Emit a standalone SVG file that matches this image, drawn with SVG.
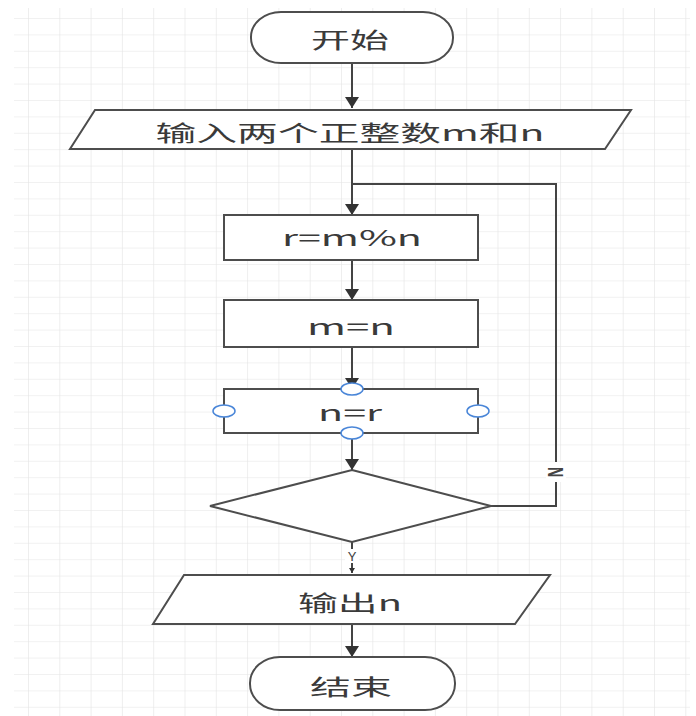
<svg xmlns="http://www.w3.org/2000/svg" width="696" height="716" viewBox="0 0 696 716">
<defs>
<pattern id="grid" x="28" y="18" width="31.3" height="16.4" patternUnits="userSpaceOnUse">
<path d="M0,0 V16.4 M0,0 H31.3" fill="none" stroke="#e4e4e4" stroke-width="1.2"/>
</pattern>
<marker id="arr" viewBox="0 0 11 14" refX="11" refY="7" markerWidth="11" markerHeight="14" markerUnits="userSpaceOnUse" orient="auto">
<path d="M0,0 L11,7 L0,14 z" fill="#333"/>
</marker>
<marker id="arrS" viewBox="0 0 5 6" refX="5" refY="3" markerWidth="5" markerHeight="6" markerUnits="userSpaceOnUse" orient="auto">
<path d="M0,0 L5,3 L0,6 z" fill="#333"/>
</marker>
</defs>
<style>
.shape{fill:#fff;stroke:#4d4d4d;stroke-width:2}
.ln{fill:none;stroke:#444;stroke-width:2}
.t{font-family:"Noto Sans CJK SC","Noto Sans",sans-serif;font-size:22px;fill:#3a3a3a;text-anchor:middle;dominant-baseline:central}
.lbl{font-family:"Noto Sans","Liberation Sans",sans-serif;fill:#444;text-anchor:middle;dominant-baseline:central}
.h{fill:#fff;stroke:#4a86d8;stroke-width:1.5}
</style>
<rect x="0" y="0" width="696" height="716" fill="#fff"/>
<rect x="14" y="8" width="676" height="708" fill="url(#grid)"/>

<g id="connectors">
<line class="ln" x1="352" y1="63" x2="352" y2="108" marker-end="url(#arr)"/>
<line class="ln" x1="352" y1="149" x2="352" y2="215" marker-end="url(#arr)"/>
<polyline class="ln" points="491,506 556,506 556,184 352,184"/>
<line class="ln" x1="352" y1="260" x2="352" y2="300" marker-end="url(#arr)"/>
<line class="ln" x1="352" y1="347" x2="352" y2="389" marker-end="url(#arr)"/>
<line class="ln" x1="352" y1="433" x2="352" y2="470" marker-end="url(#arr)"/>
<line class="ln" x1="352" y1="542" x2="352" y2="573" marker-end="url(#arrS)"/>
<line class="ln" x1="352" y1="624" x2="352" y2="657" marker-end="url(#arr)"/>
<rect x="546" y="462" width="20" height="20" fill="#fff"/>
<text class="lbl" style="font-size:13px;font-weight:bold" transform="translate(556,472) scale(1.6,1) rotate(90)">N</text>
<rect x="345" y="549" width="14" height="14" fill="#fff"/>
<text class="lbl" style="font-size:12px" transform="translate(352,556) scale(1.2,1)">Y</text>
</g>

<g id="start">
<rect class="shape" x="251" y="12" width="202" height="51" rx="30" ry="25"/>
<text class="t" x="350" y="38" textLength="78" lengthAdjust="spacingAndGlyphs">开始</text>
</g>
<g id="input">
<polygon class="shape" points="95,110 631,110 605,149 70,149"/>
<text class="t" x="350" y="131" textLength="389" lengthAdjust="spacingAndGlyphs">输入两个正整数m和n</text>
</g>
<g id="step1">
<rect class="shape" x="224" y="215" width="254" height="45"/>
<text class="t" x="352" y="236" textLength="140" lengthAdjust="spacingAndGlyphs">r=m%n</text>
</g>
<g id="step2">
<rect class="shape" x="224" y="300" width="254" height="47"/>
<text class="t" x="351" y="325" textLength="88" lengthAdjust="spacingAndGlyphs">m=n</text>
</g>
<g id="step3">
<rect class="shape" x="224" y="389" width="254" height="44"/>
<text class="t" x="350" y="411" textLength="64" lengthAdjust="spacingAndGlyphs">n=r</text>
<ellipse class="h" cx="352" cy="389" rx="11" ry="6"/>
<ellipse class="h" cx="352" cy="433" rx="11" ry="6"/>
<ellipse class="h" cx="224" cy="411" rx="11" ry="6"/>
<ellipse class="h" cx="478" cy="411" rx="11" ry="6"/>
</g>
<g id="decision">
<polygon class="shape" points="352,470 491,506 352,542 210,506"/>
</g>
<g id="output">
<polygon class="shape" points="184,575 550,575 515,624 153,624"/>
<text class="t" x="350" y="601" textLength="104" lengthAdjust="spacingAndGlyphs">输出n</text>
</g>
<g id="end">
<rect class="shape" x="250" y="657" width="205" height="53" rx="30" ry="26"/>
<text class="t" x="351" y="685" textLength="82" lengthAdjust="spacingAndGlyphs">结束</text>
</g>
</svg>
